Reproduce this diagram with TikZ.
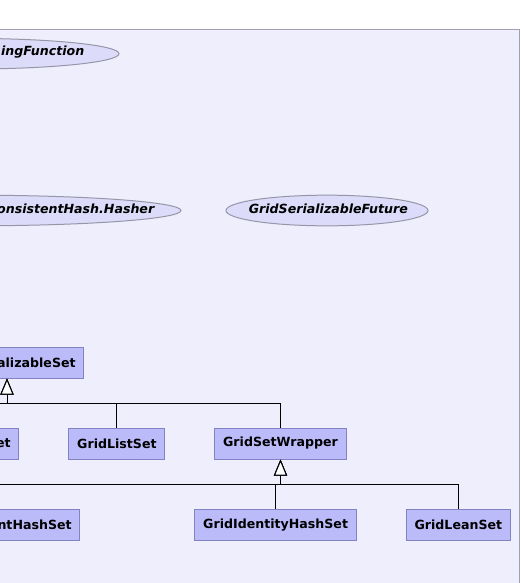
\documentclass[tikz,border=0pt]{standalone}
\usepackage{fontspec}
\setmainfont{DejaVu Sans}
\usetikzlibrary{positioning, arrows.meta,
shapes.geometric % for the interface ellipses
}

\definecolor{pkgbg}{RGB}{238,238,252}
\definecolor{pkgline}{RGB}{160,160,178}
\definecolor{classfill}{RGB}{187,187,250}
\definecolor{classline}{RGB}{130,130,196}
\definecolor{ifacefill}{RGB}{220,220,250}
\definecolor{ifaceline}{RGB}{150,150,168}

\tikzset{
  classbox/.style={draw=classline, fill=classfill, line width=0.75pt,
    minimum height=23.25pt, inner xsep=6.2pt, inner ysep=0pt,
    font=\fontsize{9.45pt}{11pt}\selectfont\bfseries},
  iface/.style={ellipse, draw=ifaceline, fill=ifacefill, line width=0.75pt,
    minimum height=23pt, inner sep=0pt},
  ifacelabel/.style={inner sep=0pt,
    font=\fontsize{9.45pt}{11pt}\selectfont\bfseries\itshape},
  extends/.style={-{Triangle[length=12pt, width=9.75pt, fill=white]},
    line width=0.75pt},
}

\begin{document}
\begin{tikzpicture}[x=0.75pt, y=-0.75pt, node distance=36.75pt]
    \useasboundingbox (0,0) rectangle (521,583);
    \clip (0,0) rectangle (521,583);
    % package frame
    \draw[fill=pkgbg, draw=pkgline, line width=0.75pt] (-20,29.5) rectangle (519.5,620);
    % interfaces
    \node[iface, minimum width=226.5pt] (mapfn) at (-32,53.7) {};
    \node[ifacelabel, anchor=east] (mapfnlabel) at ([xshift=-26.25pt, yshift=1pt]mapfn.east) {ingFunction};
    \node[iface, minimum width=315pt] (hasher) at (-29,210.5) {};
    \node[ifacelabel, anchor=east] (hasherlabel) at ([xshift=-20.25pt, yshift=1pt]hasher.east) {onsistentHash.Hasher};
    \node[iface, minimum width=151.5pt] (future) at (327,210.5) {};
    \node[ifacelabel] (futurelabel) at ([xshift=1pt, yshift=1pt]future) {GridSerializableFuture};
    % classes
    \node[classbox, text width=103pt, align=right] (serset) at (7,362.5) {alizableSet};
    \node[classbox, text width=106pt, align=right] (setet) at (-60,443.5) {et};
    \node[classbox, right=of setet] (listset) {GridListSet};
    \node[classbox, right=of listset] (wrapper) {GridSetWrapper};
    \node[classbox, text width=167.5pt, align=right] (hashset) at (-40,525) {ntHashSet};
    \node[classbox, right=85.5pt of hashset] (identity) {GridIdentityHashSet};
    \node[classbox, right=of identity] (lean) {GridLeanSet};
    % inheritance
    \coordinate (upperbus) at (0,403);
    \coordinate (lowerbus) at (0,484);
    \draw[extends] (setet.north) -- (setet.north |- upperbus) -| (serset.south);
    \draw[extends] (listset.north) -- (listset.north |- upperbus) -| (serset.south);
    \draw[extends] (wrapper.north) -- (wrapper.north |- upperbus) -| (serset.south);
    \draw[extends] (hashset.north) -- (hashset.north |- lowerbus) -| (wrapper.south);
    \draw[extends] (identity.north) -- (identity.north |- lowerbus) -| (wrapper.south);
    \draw[extends] (lean.north) -- (lean.north |- lowerbus) -| (wrapper.south);
\end{tikzpicture}
\end{document}
